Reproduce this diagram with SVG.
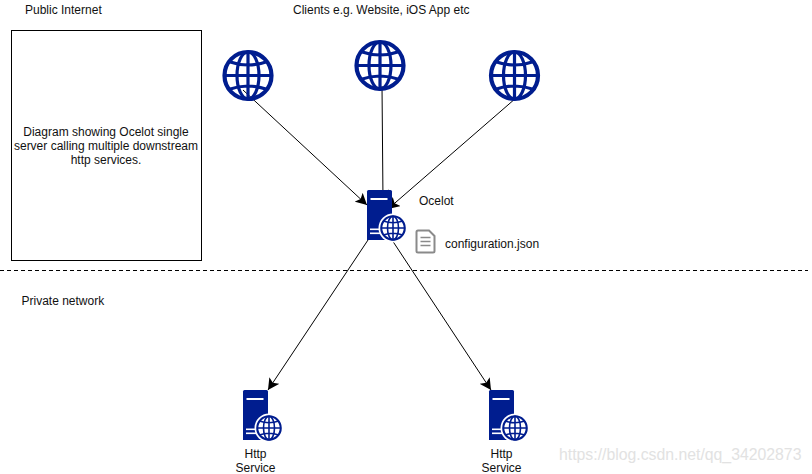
<svg xmlns="http://www.w3.org/2000/svg" width="812" height="474" viewBox="0 0 812 474">
<style>
text{font-family:"Liberation Sans",Arial,sans-serif;font-size:12px;fill:#111}
.m{text-anchor:middle}
.edge{fill:none;stroke:#000;stroke-width:1;marker-end:url(#arr)}
.gl{fill:none;stroke:#001d8f}
.srv{fill:#001d8f}
.bar{fill:#fff}
</style>
<defs>
<marker id="arr" markerUnits="userSpaceOnUse" markerWidth="12" markerHeight="12" refX="10.500" refY="5.500" orient="auto" viewBox="0 0 11 11"><path d="M0 0L10.500 5.500L0 11L2.500 5.500Z" fill="#000"/></marker>
<symbol id="globe" viewBox="-26 -26 52 52" overflow="visible">
<circle class="gl" r="23.500" stroke-width="4.200"/>
<ellipse class="gl" rx="11" ry="23.500" stroke-width="3.200"/>
<path class="gl" stroke-width="3.200" d="M0-24V24M-24 0H24M-19.500-14Q0-7 19.500-14M-19.500 14Q0 7 19.500 14"/>
</symbol>
<g id="server">
<path class="srv" d="M1.500 0H23.500Q25 0 25 1.500V50H0V1.500Q0 0 1.500 0Z"/>
<rect class="bar" x="3.500" y="8" width="17" height="2"/>
<rect class="bar" x="3" y="38.500" width="14" height="1.600"/>
<rect class="bar" x="3" y="42.500" width="14" height="1.600"/>
<circle cx="26" cy="38" r="14.500" fill="#fff"/>
<use href="#globe" x="13" y="25" width="26" height="26"/>
</g>
</defs>
<rect width="812" height="474" fill="#fff"/>
<g id="connectors">
<path class="edge" d="M243 90L367 205"/>
<path class="edge" d="M382 86L383 201"/>
<path class="edge" d="M516 98L388 209"/>
<path class="edge" d="M368 240L268 390"/>
<path class="edge" d="M392 240L491 390"/>
<path d="M0 270.500H808" fill="none" stroke="#000" stroke-width="1" stroke-dasharray="4 3"/>
</g>
<g id="public-internet"><text x="25" y="14">Public Internet</text></g>
<g id="clients-label"><text x="293" y="14">Clients e.g. Website, iOS App etc</text></g>
<g id="note">
<rect x="11.500" y="30.500" width="190" height="230" fill="#fff" stroke="#000"/>
<text class="m" x="106" y="136">Diagram showing Ocelot single</text>
<text class="m" x="106" y="150">server calling multiple downstream</text>
<text class="m" x="106" y="164">http services.</text>
</g>
<g id="client-1"><use href="#globe" x="222" y="49.500" width="52" height="52"/></g>
<g id="client-2"><use href="#globe" x="354" y="39.500" width="52" height="52"/></g>
<g id="client-3"><use href="#globe" x="488.500" y="49.500" width="52" height="52"/></g>
<g id="ocelot">
<use href="#server" x="367" y="190"/>
<text x="419" y="205">Ocelot</text>
</g>
<g id="configuration">
<path d="M418 230.500Q416.500 230.500 416.500 232V251Q416.500 252.500 418 252.500H433Q434.500 252.500 434.500 251V236L429 230.500Z" fill="#fff" stroke="#8a8a8a" stroke-width="2"/>
<path d="M420.500 237.500H430.500M420.500 241.500H430.500M420.500 245.500H430.500" stroke="#8a8a8a" stroke-width="1.500" fill="none"/>
<text x="445" y="248">configuration.json</text>
</g>
<g id="private-network"><text x="21.500" y="305">Private network</text></g>
<g id="http-service-1">
<use href="#server" x="243" y="390"/>
<text class="m" x="255.500" y="458">Http</text>
<text class="m" x="255.500" y="472">Service</text>
</g>
<g id="http-service-2">
<use href="#server" x="489" y="390"/>
<text class="m" x="501.500" y="458">Http</text>
<text class="m" x="501.500" y="472">Service</text>
</g>
<g id="watermark"><text x="559" y="460" style="font-size:15.800px;fill:#e2e2e2">https://blog.csdn.net/qq_34202873</text></g>
</svg>
